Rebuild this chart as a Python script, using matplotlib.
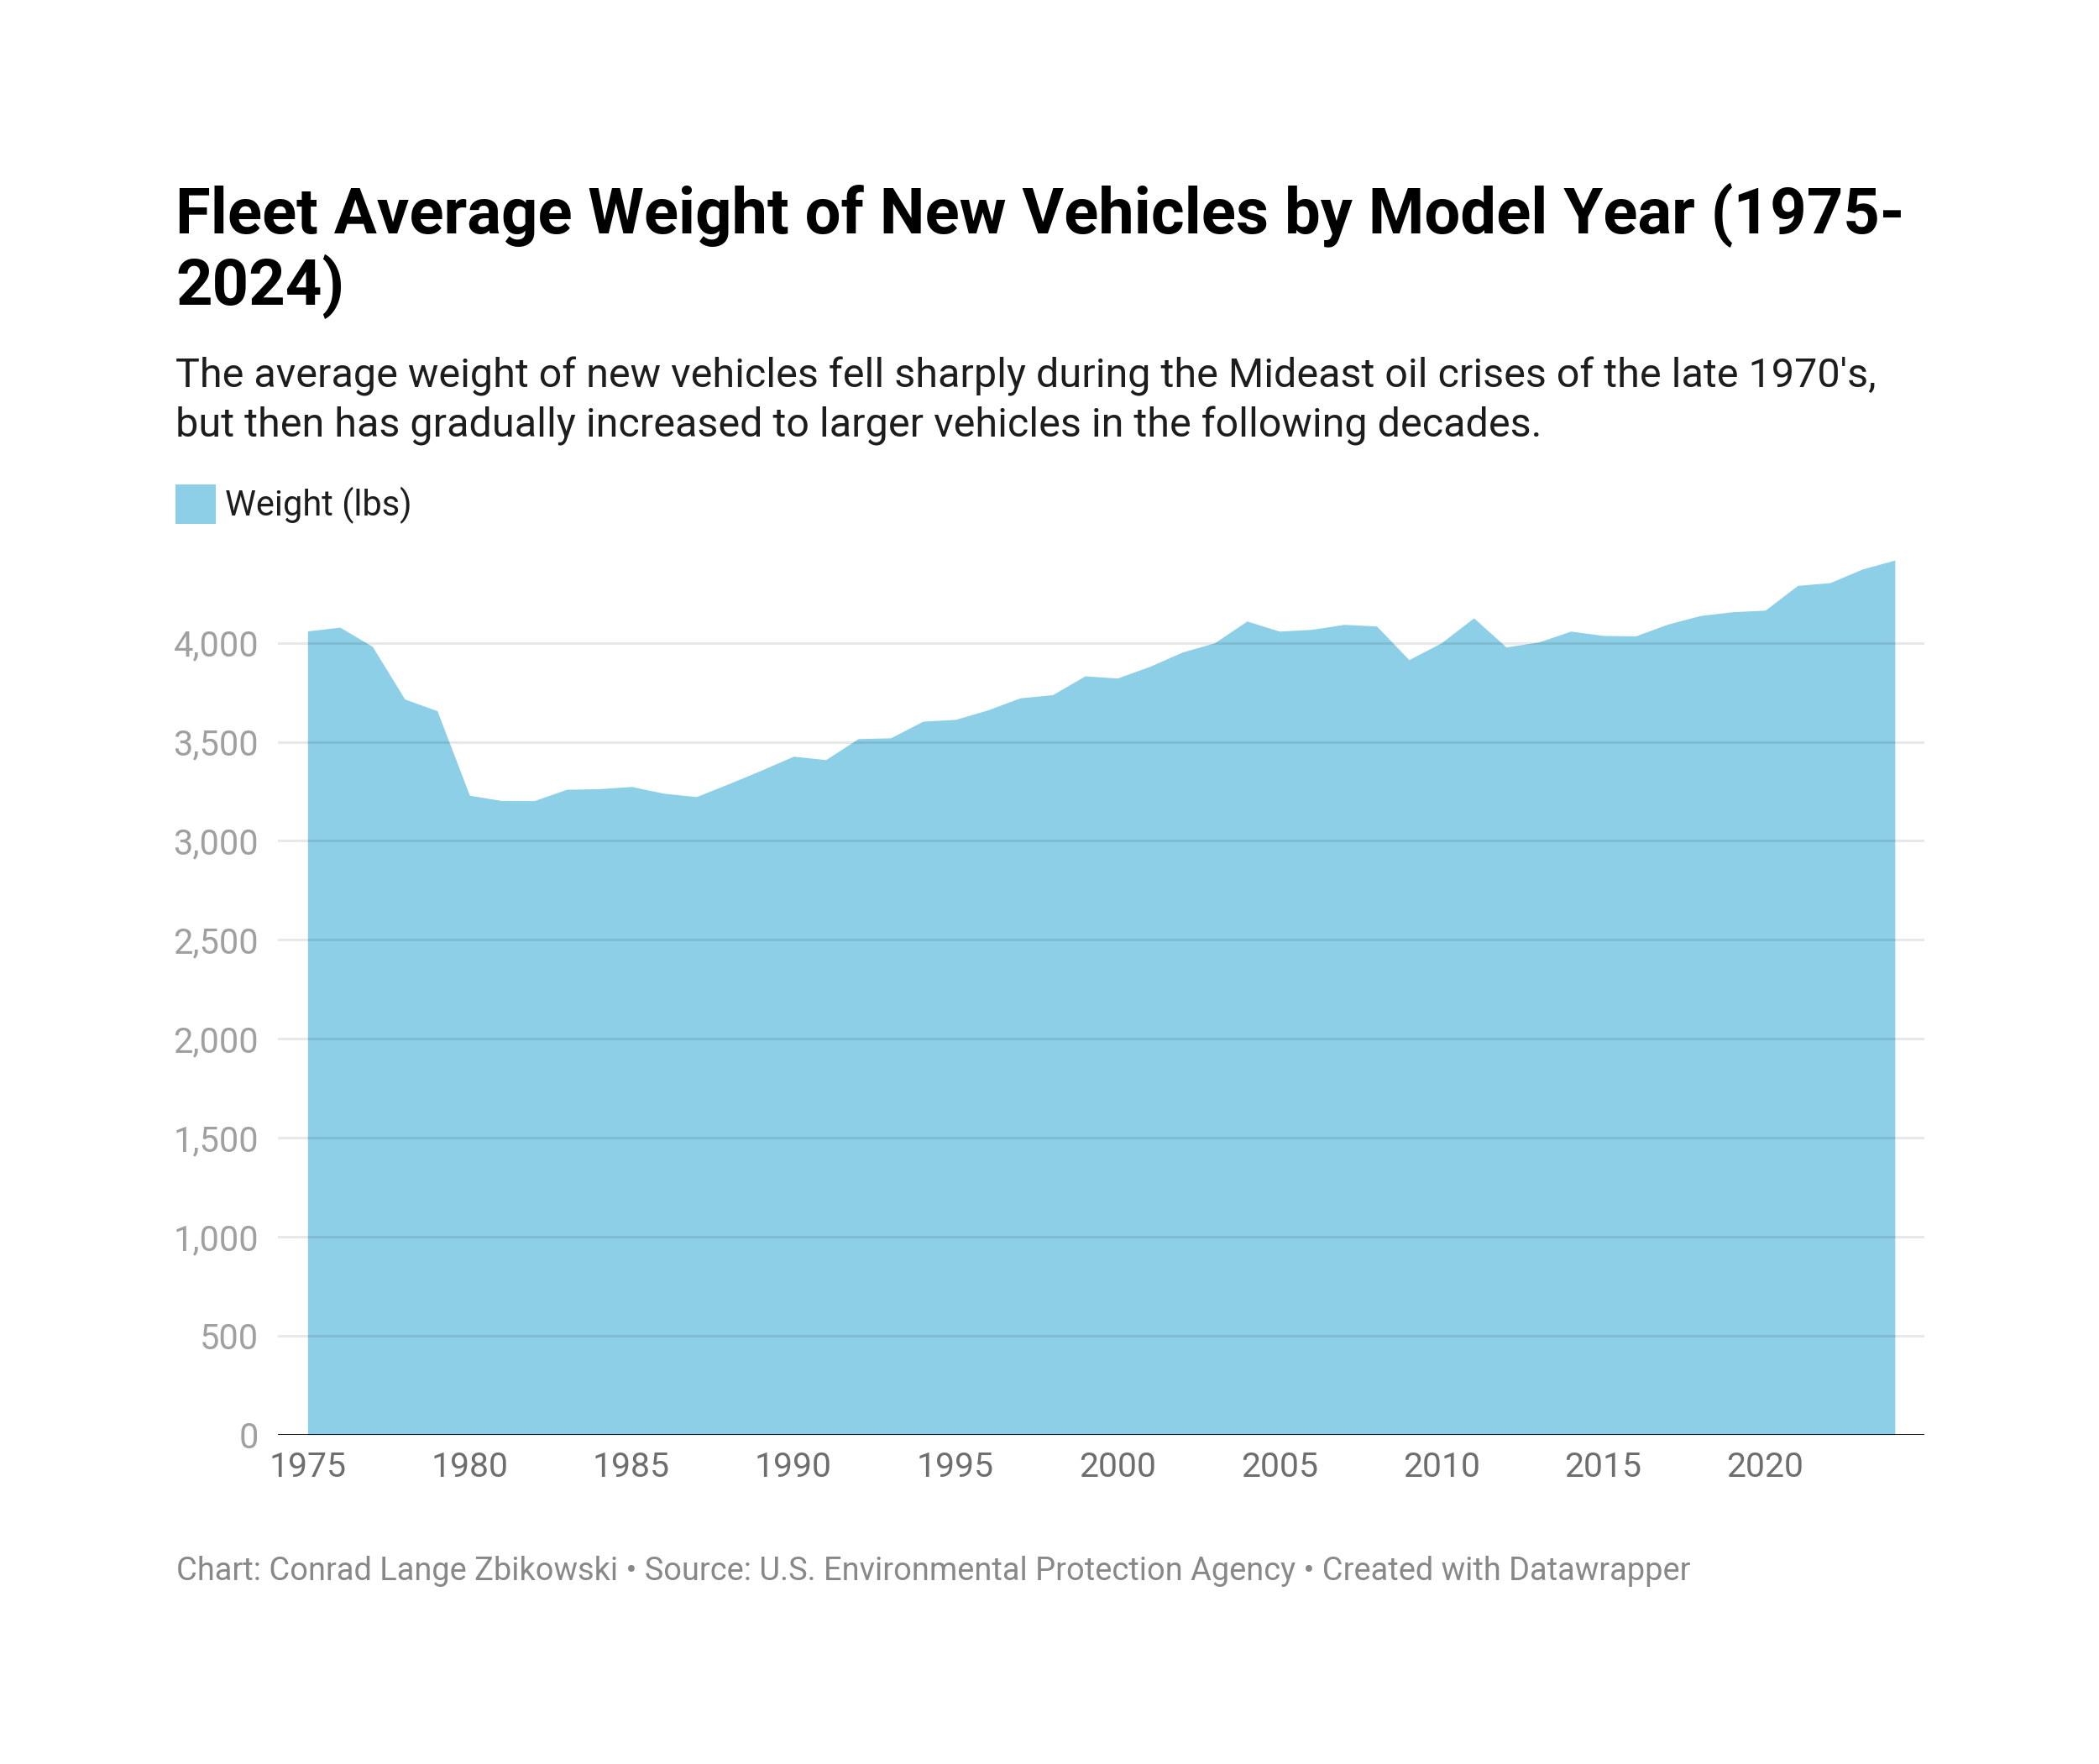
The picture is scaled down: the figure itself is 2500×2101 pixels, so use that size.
import matplotlib
matplotlib.use("Agg")
import matplotlib.pyplot as plt
from matplotlib.patches import Rectangle
from matplotlib.ticker import FuncFormatter

years = list(range(1975, 2025))
weight_lbs = [4060, 4079, 3982, 3716, 3657, 3230, 3203, 3203, 3260, 3263,
              3274, 3240, 3223, 3288, 3356, 3427, 3410, 3516, 3520, 3604,
              3613, 3661, 3722, 3738, 3833, 3822, 3881, 3953, 4000, 4110,
              4059, 4068, 4093, 4085, 3915, 4000, 4126, 3979, 4004, 4059,
              4037, 4035, 4095, 4138, 4157, 4165, 4290, 4304, 4373, 4418]
y_ticks = [0, 500, 1000, 1500, 2000, 2500, 3000, 3500, 4000]
x_ticks = [1975, 1980, 1985, 1990, 1995, 2000, 2005, 2010, 2015, 2020]

title = "Fleet Average Weight of New Vehicles by Model Year (1975-\n2024)"
subtitle_lines = ["The average weight of new vehicles fell sharply during the Mideast oil crises of the late 1970's,",
                  "but then has gradually increased to larger vehicles in the following decades."]
legend_label = "Weight (lbs)"
footer = "Chart: Conrad Lange Zbikowski \u2022 Source: U.S. Environmental Protection Agency \u2022 Created with Datawrapper"

W, H = 2500, 2101
plt.rcParams['font.family'] = ['Roboto', 'DejaVu Sans']
fig = plt.figure(figsize=(W / 100, H / 100), dpi=100)
fig.patch.set_facecolor('white')

def fy(px):
    return 1 - px / H

def fx(px):
    return px / W

AREA = '#8dcfe6'

ax_left, ax_right = 331, 2292
ax_bottom, ax_top = 1708.7, 647.8
ax = fig.add_axes([fx(ax_left), fy(ax_bottom), fx(ax_right - ax_left), (ax_bottom - ax_top) / H])
ax.fill_between(years, weight_lbs, 0, color=AREA, linewidth=0, zorder=1)
ax.set_xlim(1974.085, 2024.912)
ax.set_ylim(0, 4500)

for v in y_ticks[1:]:
    ax.axhline(v, color='black', alpha=0.09, linewidth=2.2, zorder=2)
ax.axhline(0, color='black', linewidth=2.0, zorder=3)

for s in ax.spines.values():
    s.set_visible(False)
ax.set_yticks(y_ticks)
ax.yaxis.set_major_formatter(FuncFormatter(lambda v, p: f"{int(v):,}"))
ax.set_xticks(x_ticks)
ax.tick_params(axis='y', length=0, pad=16.5, labelsize=30, labelcolor='#a0a0a0')
ax.tick_params(axis='x', length=0, pad=14, labelsize=29.5, labelcolor='#6e6e6e')
ax.set_facecolor('none')

# Title
fig.text(fx(209), fy(278), title.split("\n")[0], fontsize=54.7, fontweight='bold',
         color='#000000', ha='left', va='baseline')
fig.text(fx(209), fy(363), title.split("\n")[1], fontsize=54.7, fontweight='bold',
         color='#000000', ha='left', va='baseline')
# Subtitle
fig.text(fx(209), fy(461), subtitle_lines[0], fontsize=34.9, color='#1d1d1d',
         ha='left', va='baseline')
fig.text(fx(209), fy(520), subtitle_lines[1], fontsize=34.9, color='#1d1d1d',
         ha='left', va='baseline')
# Legend
fig.patches.append(Rectangle((fx(209), fy(624.3)), fx(47.5), 47.6 / H,
                             transform=fig.transFigure, facecolor=AREA, edgecolor='none'))
fig.text(fx(268), fy(614.3), legend_label, fontsize=30, color='#1d1d1d',
         ha='left', va='baseline')
# Footer
fig.text(fx(209.5), fy(1881.7), footer, fontsize=27.35, color='#888888',
         ha='left', va='baseline')

fig.savefig('out.png', dpi=100, facecolor='white')
